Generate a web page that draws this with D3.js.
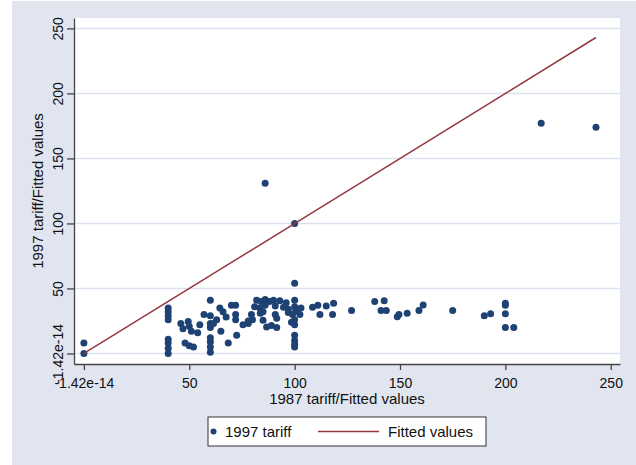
<!DOCTYPE html>
<html>
<head>
<meta charset="utf-8">
<script src="https://cdn.jsdelivr.net/npm/d3@7"></script>
<style>
  body { margin: 0; background: #fff; }
  svg text { font-family: "Liberation Sans", Arial, sans-serif; fill: #111; }
</style>
</head>
<body>
<div id="chart"></div>
<script>
const width = 636;
const height = 465;

// 1987 tariff (x) and 1997 tariff (y)
const tariff1987 = [
  0, 0,
  40, 40, 40, 40, 40, 40, 40, 40,
  46, 47, 49.5, 50, 51, 48, 50, 52,
  54, 55, 57,
  60, 60, 60, 60, 60, 60, 60, 60,
  61.5, 63, 64.5, 66, 67.5, 65, 68.5,
  70, 72, 72, 72, 72.5,
  75.5, 78, 79.5, 78, 80,
  82, 84, 86, 88, 90, 93, 96, 100,
  81, 83.5, 86, 90.8, 94.7, 97, 100,
  83.7, 85, 90.8, 97, 99, 100.5,
  85, 91.5, 98.5, 100,
  86.7, 89, 91.5, 100,
  100, 100, 100, 100,
  86, 100, 100,
  102.5, 103,
  108.5, 111, 112, 115, 118.5, 118,
  127, 138, 142.5, 141, 143.5,
  148.7, 149.5, 153.4, 159, 161, 175,
  190, 193, 200, 200, 200, 200, 204,
  217, 243
];
const tariff1997 = [
  0, 8,
  0, 4, 8, 11, 26, 29, 32, 35,
  23, 19, 24.5, 21, 17, 8, 6, 5,
  16, 22, 30,
  41, 29, 23, 20, 12, 9, 5, 1,
  23, 26, 35, 32, 28, 17, 8,
  37, 37, 30, 26, 14,
  22, 23, 30, 25, 26,
  41, 40, 41.5, 40, 41, 40.5, 39, 41,
  36, 35, 37, 36.5, 35.5, 34, 36,
  31, 32, 30, 31.5, 30, 32.5,
  25.5, 27, 24, 26,
  20.4, 21.5, 20, 22,
  14, 10, 7, 5,
  131, 100, 54,
  30, 35,
  35.5, 37, 30, 36.5, 38.6, 30,
  33, 40, 40.5, 33, 33,
  28.3, 30, 31, 33, 37.3, 33,
  29, 30.6, 38.6, 37, 30.6, 20, 20,
  177, 174
];

// fitted values line endpoints
const fittedX = [0, 243];
const fittedY = [0, 243];

const tickVals = [0, 50, 100, 150, 200, 250];
const tickText = ["-1.42e-14", "50", "100", "150", "200", "250"];

const legendLabels = ["1997 tariff", "Fitted values"];

const navy = "#1f4274";
const maroon = "#953840";
const bg = "#e0e5f0";

const svg = d3.select("#chart").append("svg")
    .attr("width", width)
    .attr("height", height);

// graph region
svg.append("rect")
    .attr("x", 12).attr("y", 1)
    .attr("width", width - 12).attr("height", height - 1)
    .attr("fill", bg);

const plot = {left: 74, right: 620, top: 18, bottom: 364};

const x = d3.scaleLinear().domain([-4.7, 254.4]).range([plot.left, plot.right]);
const y = d3.scaleLinear().domain([-8.1, 258]).range([plot.bottom, plot.top]);

svg.append("rect")
    .attr("x", plot.left).attr("y", plot.top)
    .attr("width", plot.right - plot.left).attr("height", plot.bottom - plot.top)
    .attr("fill", "white");

// horizontal grid
svg.append("g").selectAll("line")
    .data(tickVals)
    .enter().append("line")
    .attr("x1", plot.left).attr("x2", plot.right)
    .attr("y1", d => y(d)).attr("y2", d => y(d))
    .attr("stroke", "#dde3ee")
    .attr("stroke-width", 1.5);

const fmt = d => tickText[tickVals.indexOf(d)];

// x axis
const xAx = svg.append("g")
    .attr("transform", "translate(0," + plot.bottom + ")")
    .call(d3.axisBottom(x).tickValues(tickVals).tickFormat(fmt).tickSize(6).tickSizeOuter(0).tickPadding(8));
xAx.selectAll("text").style("font-size", "14px").attr("fill", "#111");

// y axis
const yAx = svg.append("g")
    .attr("transform", "translate(" + plot.left + ",0)")
    .call(d3.axisLeft(y).tickValues(tickVals).tickFormat(fmt).tickSize(7).tickSizeOuter(0));
yAx.selectAll("text")
    .style("font-size", "14px")
    .attr("fill", "#111")
    .attr("x", 0).attr("dy", 0)
    .attr("text-anchor", "middle")
    .attr("transform", "translate(-11,0) rotate(-90)");

svg.selectAll(".domain, .tick line").attr("stroke", "#444").attr("stroke-width", 1.3);

// axis titles
svg.append("text")
    .attr("x", (plot.left + plot.right) / 2)
    .attr("y", 404)
    .attr("text-anchor", "middle")
    .style("font-size", "15px")
    .text("1987 tariff/Fitted values");

svg.append("text")
    .attr("transform", "translate(43," + (plot.top + plot.bottom) / 2 + ") rotate(-90)")
    .attr("text-anchor", "middle")
    .style("font-size", "15px")
    .text("1997 tariff/Fitted values");

// points
const pts = tariff1987.map((d, i) => ({x: d, y: tariff1997[i]}));
svg.append("g").selectAll("circle")
    .data(pts)
    .enter().append("circle")
    .attr("cx", d => x(d.x))
    .attr("cy", d => y(d.y))
    .attr("r", 3.5)
    .attr("fill", navy);

// fitted line
const fitLine = d3.line().x(d => x(d[0])).y(d => y(d[1]));
svg.append("path")
    .datum(fittedX.map((d, i) => [d, fittedY[i]]))
    .attr("d", fitLine)
    .attr("fill", "none")
    .attr("stroke", maroon)
    .attr("stroke-width", 1.5);

// legend
const lg = svg.append("g");
lg.append("rect")
    .attr("x", 208).attr("y", 417)
    .attr("width", 278).attr("height", 29)
    .attr("fill", "white")
    .attr("stroke", "#333")
    .attr("stroke-width", 1);
lg.append("circle")
    .attr("cx", 213.5).attr("cy", 431.5)
    .attr("r", 3)
    .attr("fill", navy);
lg.append("text")
    .attr("x", 225).attr("y", 437)
    .style("font-size", "15px")
    .text(legendLabels[0]);
lg.append("line")
    .attr("x1", 318).attr("x2", 379)
    .attr("y1", 431.5).attr("y2", 431.5)
    .attr("stroke", maroon)
    .attr("stroke-width", 1.5);
lg.append("text")
    .attr("x", 388).attr("y", 437)
    .style("font-size", "15px")
    .text(legendLabels[1]);
</script>
</body>
</html>
